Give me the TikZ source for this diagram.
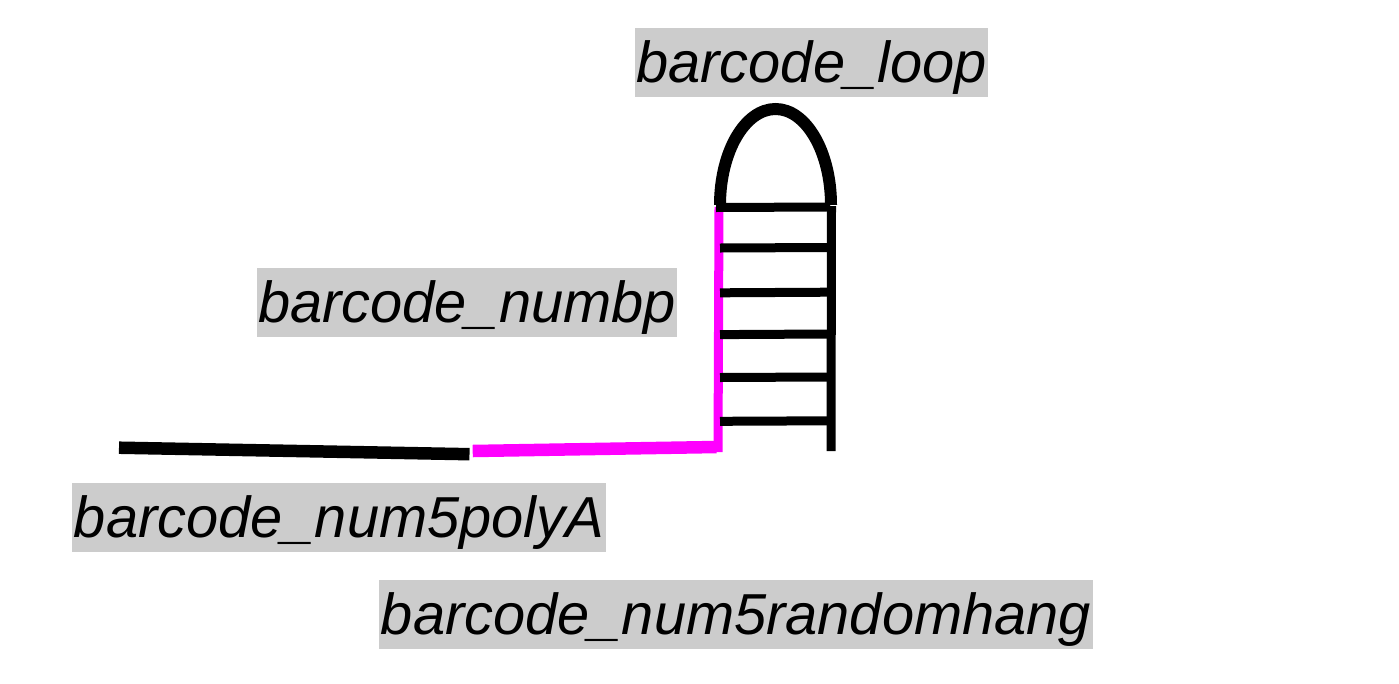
\documentclass[tikz,border=0pt]{standalone}
\usepackage{fontspec}
\setmainfont{Liberation Sans}
\definecolor{lblgray}{RGB}{204,204,204}
\definecolor{mag}{RGB}{255,0,255}
\tikzset{
  lbl/.style={fill=lblgray, inner xsep=1.5pt, inner ysep=2.2pt,
    font=\fontsize{57.8}{69}\selectfont\itshape,
    text height=52.3pt, text depth=12.3pt, anchor=center},
  blk/.style={draw=black, line width=9pt, line cap=butt},
  thick blk/.style={draw=black, line width=12.5pt, line cap=butt},
  magln/.style={draw=mag, line width=9pt, line cap=butt},
  thick magln/.style={draw=mag, line width=12.5pt, line cap=butt},
  arcln/.style={draw=black, line width=12pt, line cap=butt}
}
\begin{document}
\begin{tikzpicture}[x=1pt,y=-1pt]
\useasboundingbox (0,0) rectangle (1399,683);
% labels
\node[lbl] (loop) at (811.5,62.5) {barcode\_loop};
\node[lbl] (numbp) at (467,302) {barcode\_numbp};
\node[lbl] (polyA) at (339,517.5) {barcode\_num5polyA};
\node[lbl] (hang) at (736,614.5) {barcode\_num5randomhang};
% coordinates
\coordinate (a1) at (119,447.7);
\coordinate (a2) at (469.5,454.2);
\coordinate (m1) at (472.7,451);
\coordinate (m2) at (716.5,447);
\coordinate (v1) at (718,452);
\coordinate (v2) at (719,207);
\coordinate (r1) at (831,451);
\coordinate (r2) at (831.5,206);
\coordinate (l1) at (720,205);
% single strand
\path[thick blk] (a1) -- (a2);
\path[thick magln] (m1) -- (m2);
\path[magln] (v1) -- (v2);
% right strand
\path[blk] (r1) -- (r2);
% rungs
\path[blk] (716,207.5) -- (830,207.0);
\foreach \y/\yy in {248/247.5, 292.8/292.2, 334.6/334, 377.5/377, 421.3/420.8}{
  \path[blk] (720,\y) -- (828,\yy);
}
% loop
\path[arcln] (l1) arc[start angle=180, end angle=360, x radius=55.5, y radius=96];
\end{tikzpicture}
\end{document}
